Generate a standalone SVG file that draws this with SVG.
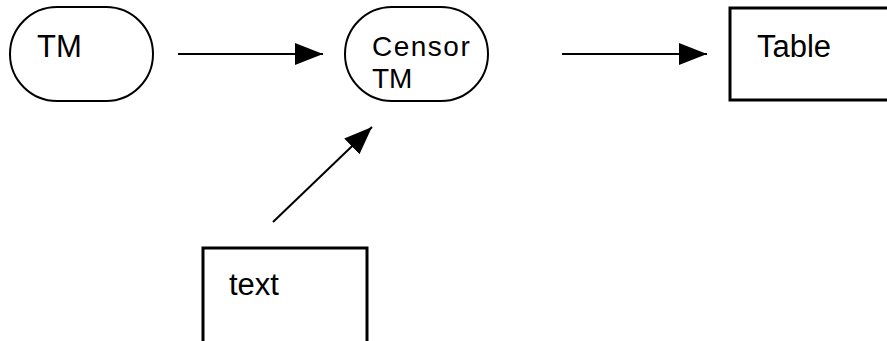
<svg xmlns="http://www.w3.org/2000/svg" width="887" height="341" viewBox="0 0 887 341">
  <defs>
    <style>
      .stadium { fill: #fff; stroke: #000; stroke-width: 2; }
      .box { fill: #fff; stroke: #000; stroke-width: 3; }
      .lbl { font-family: "Liberation Sans", Arial, sans-serif; font-size: 31px; fill: #000; }
      .lbl2 { font-family: "Liberation Sans", Arial, sans-serif; font-size: 28px; fill: #000; }
      .conn { stroke: #000; stroke-width: 2; fill: none; marker-end: url(#arrow); }
    </style>
    <marker id="arrow" markerUnits="userSpaceOnUse" markerWidth="28" markerHeight="22" refX="28" refY="11" orient="auto">
      <path d="M0,0 L28,11 L0,22 z" fill="#000"/>
    </marker>
  </defs>
  <rect width="887" height="341" fill="#fff"/>
  <g id="node-tm">
    <rect class="stadium" x="10" y="7" width="143" height="94" rx="47" ry="47"/>
    <text class="lbl" x="37" y="57">TM</text>
  </g>
  <g id="node-censor">
    <rect class="stadium" x="345" y="7" width="143" height="94" rx="47" ry="47"/>
    <text class="lbl2" x="372" y="56" letter-spacing="1.5">Censor</text>
    <text class="lbl2" x="372" y="88">TM</text>
  </g>
  <g id="node-table">
    <rect class="box" x="730" y="8" width="170" height="92"/>
    <text class="lbl" x="757" y="57">Table</text>
  </g>
  <g id="node-text">
    <rect class="box" x="203" y="248" width="164" height="100"/>
    <text class="lbl" x="229" y="295">text</text>
  </g>
  <g id="connectors">
    <line class="conn" x1="178" y1="54" x2="323" y2="54"/>
    <line class="conn" x1="562" y1="54" x2="707" y2="54"/>
    <line class="conn" x1="273" y1="222" x2="372" y2="127"/>
  </g>
</svg>
